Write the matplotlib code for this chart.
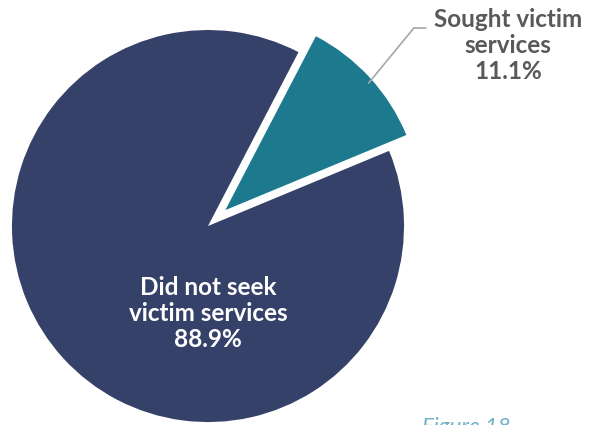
import matplotlib
matplotlib.use('Agg')
import matplotlib.pyplot as plt

plt.rcParams['font.family'] = ['Lato', 'DejaVu Sans']

labels = ["Sought victim\nservices", "Did not seek\nvictim services"]
values = [11.1, 88.9]
colors = ["#1d7a8e", "#354168"]

fig = plt.figure(figsize=(6.02, 4.25), dpi=100)
ax = fig.add_axes([0, 0, 1, 1])

wedges, _ = ax.pie(values, colors=colors, explode=[0.12, 0], startangle=62.5,
                   counterclock=False, radius=1, center=(0, 0))
# pie resets the limits, so set them afterwards
ax.set_xlim(-1.061, 2.010)
ax.set_ylim(-1.015, 1.153)
ax.set_aspect('equal')
ax.axis('off')

# outside label for the small slice, with a leader line
ax.plot([0.82, 1.05, 1.11], [0.73, 1.01, 1.01], color="#a6a6a6", lw=1.2)
ax.text(1.53, 0.92, f"{labels[0]}\n{values[0]}%", ha="center", va="center",
        fontsize=17.5, fontweight="bold", color="#595959", linespacing=1.15)

# inside label for the big slice
ax.text(0.0, -0.445, f"{labels[1]}\n{values[1]}%", ha="center", va="center",
        fontsize=17.5, fontweight="bold", color="white", linespacing=1.15)

fig.text(422 / 602, 1 - 417 / 425, "Figure 18", ha="left", va="top",
         fontsize=16, style="italic", color="#6fb3c6")

fig.savefig("out.png", dpi=100)
